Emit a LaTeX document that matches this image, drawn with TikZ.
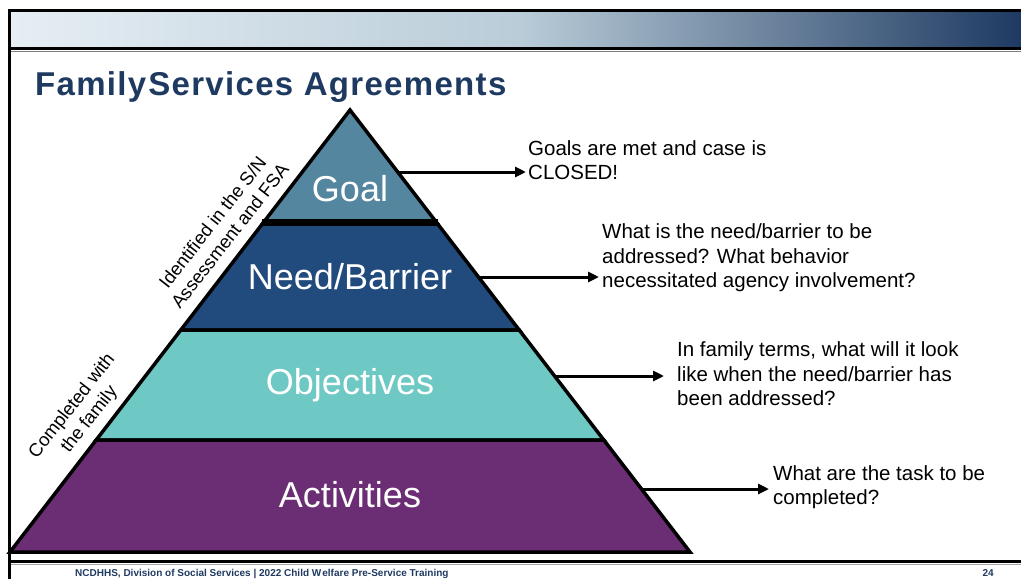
\documentclass[tikz,border=0pt]{standalone}
\usepackage{fontspec}
\setmainfont{Liberation Sans}
\usetikzlibrary{arrows.meta}
\definecolor{goalc}{HTML}{5586A0}
\definecolor{needc}{HTML}{214B7D}
\definecolor{objc}{HTML}{6EC8C4}
\definecolor{actc}{HTML}{6B2D73}
\definecolor{navy}{HTML}{1F3A60}
\definecolor{bandl}{HTML}{E6EEF4}
\definecolor{bandm}{HTML}{B9CCD8}
\definecolor{bandr}{HTML}{1E3A62}
\tikzset{
  layer/.style={draw=black, line width=3.5pt, line join=miter},
  layerlabel/.style={text=white, inner sep=0pt, font=\fontsize{36}{43}\selectfont},
  note/.style={align=left, anchor=west, inner sep=0pt, font=\fontsize{20.5}{24.5}\selectfont},
  sidenote/.style={align=center, inner sep=0pt, rotate=52, font=\fontsize{18.5}{22}\selectfont},
  arr/.style={line width=3pt, -{Triangle[length=11pt,width=10pt]}},
  frameline/.style={line width=3pt, black},
}
\begin{document}
\begin{tikzpicture}[x=1pt,y=1pt]
\useasboundingbox (0,0) rectangle (1021,-579);
\fill[white] (0,0) rectangle (1021,-579);
% header band
\shade[left color=bandl, right color=bandm] (11,-12) rectangle (521,-47);
\shade[left color=bandm, right color=bandr] (520,-12) rectangle (1021,-47);
\draw[frameline] (8,-10.5) -- (1021,-10.5);
\draw[frameline] (9.5,-9) -- (9.5,-579);
\draw[frameline] (8,-48.5) -- (1021,-48.5);
\draw[gray, line width=1pt] (11,-51) -- (1021,-51);
\draw[frameline] (8,-561.5) -- (1021,-561.5);
\draw[gray!70, line width=1pt] (11,-564) -- (1021,-564);
% title
\node[anchor=base west, inner sep=0pt, text=navy, font=\fontsize{33}{39}\selectfont\bfseries\addfontfeatures{LetterSpace=4}] (title) at (35,-95) {Family\hspace{0.06em}Services Agreements};
% pyramid layers
\fill[actc] (96.2,-440) -- (603.8,-440) -- (690,-552) -- (10,-552) -- cycle;
\fill[objc] (180.8,-330) -- (519.2,-330) -- (603.8,-440) -- (96.2,-440) -- cycle;
\fill[needc] (263.8,-222) -- (436.2,-222) -- (519.2,-330) -- (180.8,-330) -- cycle;
\fill[goalc] (350,-110) -- (436.2,-222) -- (263.8,-222) -- cycle;
\draw[layer] (96.2,-440) -- (603.8,-440) -- (690,-552) -- (10,-552) -- cycle;
\draw[layer] (180.8,-330) -- (519.2,-330) -- (603.8,-440) -- (96.2,-440) -- cycle;
\draw[layer] (263.8,-222) -- (436.2,-222) -- (519.2,-330) -- (180.8,-330) -- cycle;
\draw[layer] (350,-110) -- (436.2,-222) -- (263.8,-222) -- cycle;
\draw[line width=7pt] (262,-222) -- (438,-222);
\node[layerlabel] (goal) at (350,-189) {Goal};
\node[layerlabel] (need) at (350,-277) {Need/Barrier};
\node[layerlabel] (obj) at (350,-385) {Objectives};
\node[layerlabel] (act) at (350,-495) {Activities};
% side notes
\node[sidenote] (ident) at (221,-229) {Identified in the S/N\\Assessment and FSA};
\node[sidenote] (compl) at (81,-413) {Completed with\\the family};
% right notes
\node[note] (ngoal) at (528,-160) {Goals are met and case is\\CLOSED!};
\node[note] (nneed) at (602,-258) {What is the need/barrier to be\\addressed? What behavior\\necessitated agency involvement?};
\node[note] (nobj) at (677,-374) {In family terms, what will it look\\like when the need/barrier has\\been addressed?};
\node[note] (nact) at (773,-487) {What are the task to be\\completed?};
% arrows
\coordinate (gs) at (398,-172); \coordinate (ge) at (526,-172);
\coordinate (ns) at (478,-277); \coordinate (ne) at (599,-277);
\coordinate (os) at (555,-376); \coordinate (oe) at (664,-376);
\coordinate (as) at (641,-489); \coordinate (ae) at (769,-489);
\draw[arr] (gs) -- (ge);
\draw[arr] (ns) -- (ne);
\draw[arr] (os) -- (oe);
\draw[arr] (as) -- (ae);
% footer
\node[anchor=base west, inner sep=0pt, text=navy, font=\fontsize{10}{12}\selectfont\bfseries] (foot) at (75,-576) {NCDHHS, Division of Social Services | 2022 Child W\kern1pt elfare Pre-Service Training};
\node[anchor=base east, inner sep=0pt, text=navy, font=\fontsize{10}{12}\selectfont\bfseries] (page) at (994,-576) {24};
\end{tikzpicture}
\end{document}
